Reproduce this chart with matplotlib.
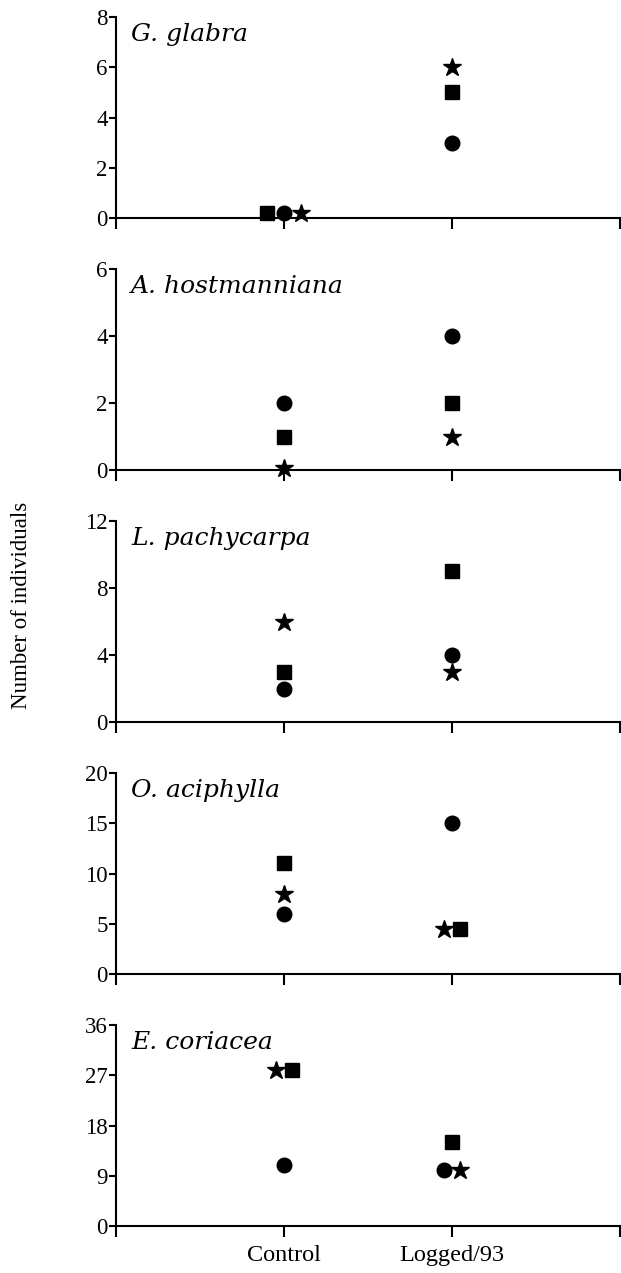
import numpy as np
import matplotlib
matplotlib.use("Agg")
import matplotlib.pyplot as plt

# species panels, top to bottom
species = ["G. glabra", "A. hostmanniana", "L. pachycarpa", "O. aciphylla", "E. coriacea"]
y_max = [8, 6, 12, 20, 36]
y_ticks = [[0, 2, 4, 6, 8], [0, 2, 4, 6], [0, 4, 8, 12], [0, 5, 10, 15, 20], [0, 9, 18, 27, 36]]
groups = ["Control", "Logged/93"]

# values per group: [Control, Logged/93]
circle = [[0.2, 3], [2, 4], [2, 4], [6, 15], [11, 10]]
square = [[0.2, 5], [1, 2], [3, 9], [11, 4.5], [28, 15]]
star = [[0.2, 6], [0.05, 1], [6, 3], [8, 4.5], [28, 10]]

# horizontal nudges where markers overlap
circle_dx = [[0, 0], [0, 0], [0, 0], [0, 0], [0, -0.05]]
square_dx = [[-0.1, 0], [0, 0], [0, 0], [0, 0.05], [0.05, 0]]
star_dx = [[0.1, 0], [0, 0], [0, 0], [0, -0.05], [-0.05, 0.05]]

plt.rcParams['font.family'] = ['Liberation Serif', 'DejaVu Serif']

fig = plt.figure(figsize=(6.21, 12.73), dpi=100)
W, H = 621, 1273
left, right = 116, 620
ph = 201

xpos = np.array([1, 2])
for i in range(5):
    top = 17 + 252 * i
    ax = fig.add_axes([left / W, 1 - (top + ph) / H, (right - left) / W, ph / H])
    ax.plot(xpos + np.array(circle_dx[i]), circle[i], "o", color="black", ms=10.5, clip_on=False)
    ax.plot(xpos + np.array(square_dx[i]), square[i], "s", color="black", ms=10.5, clip_on=False)
    ax.plot(xpos + np.array(star_dx[i]), star[i], "*", color="black", ms=13.5, clip_on=False)
    ax.set_xlim(0, 3)
    ax.set_ylim(0, y_max[i])
    ax.set_yticks(y_ticks[i])
    ax.set_xticks([0, 1, 2, 3])
    if i == 4:
        ax.set_xticklabels(["", groups[0], groups[1], ""])
    else:
        ax.set_xticklabels([])
    ax.spines["top"].set_visible(False)
    ax.spines["right"].set_visible(False)
    for s in ["left", "bottom"]:
        ax.spines[s].set_linewidth(1.5)
    ax.tick_params(axis="y", direction="out", length=5, width=1.5, labelsize=16.5, pad=1)
    ax.tick_params(axis="x", direction="out", length=8, width=1.5, labelsize=17.5, pad=6)
    ax.text(0.03, 0.97, species[i], transform=ax.transAxes, va="top", ha="left",
            fontsize=18, style="italic", family="DejaVu Serif")

fig.text(22 / W, 1 - 605 / H, "Number of individuals", rotation=90, va="center", ha="center", fontsize=16.5)

fig.savefig("out.png", dpi=100)
